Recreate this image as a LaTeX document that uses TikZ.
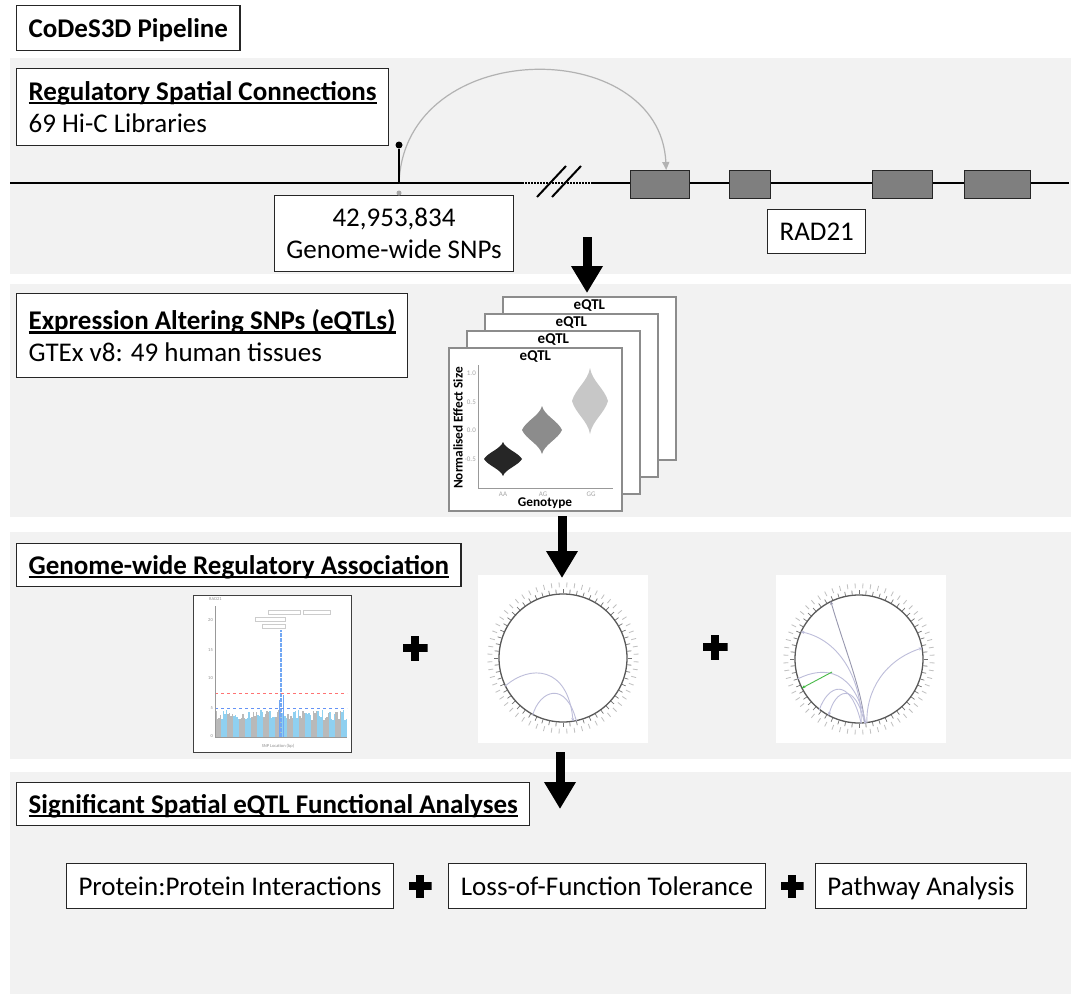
\documentclass[tikz,border=0pt]{standalone}
\usepackage{fontspec}
\setmainfont{Carlito}
\usetikzlibrary{arrows.meta}

\definecolor{bgpanel}{HTML}{F2F2F2}
\definecolor{exon}{HTML}{7F7F7F}
\definecolor{sky}{HTML}{8FD0F0}
\definecolor{link}{HTML}{BDBDDA}

\newsavebox{\ulbox}
\newcommand{\ulhead}[1]{\sbox\ulbox{\bfseries #1}\rlap{\rule[-4pt]{\wd\ulbox}{2.2pt}}\usebox\ulbox}

\tikzset{violin/.pic={\fill (0,-1) .. controls (0.12,-0.6) and (0.8,-0.38) .. (1,0) .. controls (0.8,0.38) and (0.12,0.6) .. (0,1) .. controls (-0.12,0.6) and (-0.8,0.38) .. (-1,0) .. controls (-0.8,-0.38) and (-0.12,-0.6) .. cycle;}}

\begin{document}
\begin{tikzpicture}[x=1pt,y=-1pt]
        \tikzstyle{every node}=[font=\fontsize{27}{32}\selectfont, inner sep=0pt]
        \tikzstyle{tag}=[draw=black!85, line width=1.2pt, fill=white, inner xsep=12pt, inner ysep=6pt]
        \tikzstyle{oneline}=[text height=22pt, text depth=4pt]
        \tikzstyle{exonbox}=[draw=black!85, line width=1.4pt, fill=exon, anchor=north west, minimum height=28pt]
        \tikzstyle{card}=[draw=black!45, line width=1.8pt, fill=white, anchor=north west, minimum width=173pt, minimum height=163pt]
        \tikzstyle{cardlbl}=[font=\bfseries\fontsize{15}{17}\selectfont, anchor=north]
        \tikzstyle{axlbl}=[font=\bfseries\fontsize{13.3}{15}\selectfont]
        \tikzstyle{ticklbl}=[font=\fontsize{7}{8}\selectfont, text=black!35]
        \tikzstyle{tinylbl}=[font=\fontsize{4.5}{5}\selectfont, text=black!45]
        \tikzstyle{panelbox}=[fill=white, anchor=north west, minimum width=170pt, minimum height=168pt]
        \tikzstyle{ring}=[circle, draw=black!65, line width=1.3pt, minimum size=128pt]
        \tikzstyle{bigarrow}=[line width=9pt, -{Triangle[width=30pt,length=27pt]}]
        \tikzstyle{plus}=[minimum size=25pt, path picture={\fill[black] ([xshift=-4pt]path picture bounding box.north) rectangle ([xshift=4pt]path picture bounding box.south); \fill[black] ([yshift=-4pt]path picture bounding box.west) rectangle ([yshift=4pt]path picture bounding box.east);}]

        \useasboundingbox (0,0) rectangle (1071,996);
        % grey bands
        \fill[bgpanel] (10,58) rectangle (1071,274);
        \fill[bgpanel] (10,284) rectangle (1071,517);
        \fill[bgpanel] (10,532) rectangle (1071,759);
        \fill[bgpanel] (10,772) rectangle (1071,994);

        \node[tag, oneline, anchor=north west, minimum height=45pt] (title) at (16,5) {\bfseries CoDeS3D Pipeline};

        % Hi-C step
        \node[tag, anchor=north west, align=left, minimum height=77pt] (hic) at (16,68) {\ulhead{Regulatory Spatial Connections}\\69 Hi-C Libraries};
        \coordinate (chrL) at (10,183);
        \coordinate (gapL) at (522,183);
        \coordinate (gapR) at (592,183);
        \coordinate (chrR) at (1069,183);
        \draw[line width=2pt] (chrL) -- (gapL);
        \draw[line width=2pt, dash pattern=on 1.5pt off 1.5pt] (gapL) -- (gapR);
        \draw[line width=2pt] (gapR) -- (chrR);
        \draw[line width=2pt] (537,197) -- (566,166) (552,197) -- (581,166);
        \node[exonbox, minimum width=59pt] (ex1) at (630,170) {};
        \node[exonbox, minimum width=41pt] (ex2) at (729,170) {};
        \node[exonbox, minimum width=60pt] (ex3) at (872,170) {};
        \node[exonbox, minimum width=66pt] (ex4) at (964,170) {};
        \coordinate (snp) at (399,183);
        \node[circle, fill=black, minimum size=7pt] (snpdot) at (399,145) {};
        \draw[gray!60, line width=1.2pt, -{Triangle[width=7pt,length=8pt]}] (snp) .. controls (405,35) and (660,35) .. ([xshift=6pt]ex1.north);
        \draw[line width=2pt] (snp) -- (snpdot);
        \node[tag, anchor=north, align=center, minimum height=76pt] (snps) at (394,195) {42,953,834\\Genome-wide SNPs};
        \node[circle, fill=gray!70, minimum size=5pt] (snpmark) at (399,193) {};
        \node[tag, oneline, anchor=north west, minimum height=44pt] (gene) at (767,209) {RAD21};
        \coordinate (a1s) at (587,237);
        \coordinate (a1e) at (587,293);
        \draw[bigarrow] (a1s) -- (a1e);

        % eQTL step
        \node[tag, anchor=north west, align=left, minimum height=84pt] (gtex) at (16,293) {\ulhead{Expression Altering SNPs (eQTLs)}\\GTEx v8: 49 human tissues};
        \foreach \i/\cx/\cy in {4/502/296, 3/484/313, 2/466/330, 1/448/347} {
                \node[card] (card\i) at (\cx,\cy) {};
                \node[cardlbl] (lbl\i) at ([yshift=-3pt]card\i.north) {eQTL};
        }
        \coordinate (ytop) at (478,365);
        \coordinate (orig) at (478,488);
        \coordinate (xend) at (613,488);
        \draw[black!40, line width=1pt] (ytop) -- (orig) -- (xend);
        \node[axlbl, rotate=90] (ylab) at (458,428) {Normalised Effect Size};
        \node[axlbl] (xlab) at (545,503) {Genotype};
        \foreach \v/\yy [count=\n] in {1.0/373, 0.5/402, 0.0/430, -0.5/459}
                \node[ticklbl, anchor=east] (yt\n) at (476,\yy) {\v};
        \foreach \g/\xx in {AA/503, AG/543, GG/591}
                \node[ticklbl] (xt\g) at (\xx,494) {\g};
        \pic[fill=black!85, xscale=19, yscale=17] at (503,459) {violin};
        \pic[fill=black!45, xscale=20, yscale=24] at (542,430) {violin};
        \pic[fill=black!22, xscale=18, yscale=33] at (590,401) {violin};
        \coordinate (a2s) at (562,516);
        \coordinate (a2e) at (562,578);

        % association step
        \node[tag, oneline, anchor=north west, minimum height=43pt] (assoc) at (16,543) {\ulhead{Genome-wide Regulatory Association}};
        \node[draw=black!75, line width=1.3pt, fill=white, anchor=north west, minimum width=158pt, minimum height=157pt] (manh) at (193,595) {};
        \pgfmathsetseed{7}
        \foreach \i in {0,...,87} {
                \pgfmathsetmacro{\h}{17+10*rnd}
                \pgfmathtruncatemacro{\blk}{\i/4}
                \ifodd\blk\relax \def\bc{sky}\else\def\bc{gray!55}\fi
                \draw[\bc, line width=1.6pt] ({216+1.5*\i},737) -- ++(0,-\h);
        }
        \draw[sky!80!blue, line width=1pt] (279,737) -- (279,700) (283,737) -- (283,695);
        \draw[sky!80!blue, line width=1.2pt, dash pattern=on 4pt off 1pt] (281,737) -- (281,630);
        \draw[red!55, dashed, line width=0.6pt] (215,693) -- (347,693);
        \draw[sky!70!blue, dashed, line width=0.6pt] (215,708) -- (347,708);
        \draw[black!40, line width=0.5pt] (215,606) -- (215,737) -- (347,737);
        \draw[black!20, line width=0.3pt] (268,610) rectangle (300,614) (303,610) rectangle (330,614) (255,617) rectangle (285,621) (262,624) rectangle (285,628);
        \node[tinylbl, anchor=west] (mtitle) at (209,599) {RAD21};
        \foreach \t/\yy in {20/620, 15/650, 10/678, 5/708, 0/736}
                \node[tinylbl, anchor=east] (mt\t) at (213,\yy) {\t};
        \node[tinylbl] (mxlab) at (278,746) {SNP Location (bp)};

        \node[panelbox] (cp1) at (478,575) {};
        \node[panelbox] (cp2) at (776,575) {};
        \node[ring] (circ1) at (563,658) {};
        \node[ring] (circ2) at (859,659) {};
        \foreach \c in {circ1, circ2}
                \foreach \a in {0,6,...,354} {
                        \draw[black!55, line width=0.7pt] (\c.\a) -- ++(\a:4pt);
                        \draw[black!25, line width=0.8pt] (\c.\a+3) ++(\a+3:6pt) -- ++(\a+3:5pt);
                }
        \draw[link, line width=0.9pt, -{Stealth[length=4pt]}] (circ1.206) .. controls (530,664) and (568,666) .. (circ1.279);
        \draw[link, line width=0.9pt] (circ1.242) .. controls (540,690) and (566,680) .. (circ1.282);
        \draw[link!80!black, line width=0.9pt, {Stealth[length=4pt]}-] (circ2.116) .. controls (845,650) and (862,690) .. (circ2.275);
        \draw[link, line width=0.9pt, {Stealth[length=4pt]}-] (circ2.155) .. controls (840,640) and (862,680) .. (circ2.272);
        \draw[link, line width=0.9pt, {Stealth[length=4pt]}-] (circ2.10) .. controls (885,660) and (866,690) .. (circ2.277);
        \draw[link, line width=0.9pt, {Stealth[length=4pt]}-] (circ2.242) .. controls (835,690) and (855,680) .. (circ2.275);
        \draw[link, line width=0.9pt] (circ2.232) .. controls (828,685) and (850,675) .. (circ2.272);
        \draw[link, line width=0.9pt] (circ2.198) .. controls (825,665) and (855,670) .. (circ2.276);
        \coordinate (g0) at (832,672);
        \draw[green!45!gray, line width=0.9pt, -{Stealth[length=4pt]}] (g0) -- (circ2.207);
        \node[plus] (plusA) at (415,648) {};
        \node[plus] (plusB) at (715,647) {};
        \draw[bigarrow] (a2s) -- (a2e);
        \coordinate (a3s) at (560,752);
        \coordinate (a3e) at (560,809);
        \draw[bigarrow] (a3s) -- (a3e);

        % functional step
        \node[tag, oneline, anchor=north west, minimum height=43pt] (func) at (16,782) {\ulhead{Significant Spatial eQTL Functional Analyses}};
        \node[tag, oneline, minimum height=45pt] (ppi) at (230,886) {Protein:Protein Interactions};
        \node[tag, oneline, minimum height=45pt] (lof) at (607,886) {Loss-of-Function Tolerance};
        \node[tag, oneline, minimum height=45pt] (pathway) at (921,886) {Pathway Analysis};
        \node[plus, minimum size=23pt] (plusC) at (420,886) {};
        \node[plus, minimum size=23pt] (plusD) at (792,886) {};
\end{tikzpicture}
\end{document}
